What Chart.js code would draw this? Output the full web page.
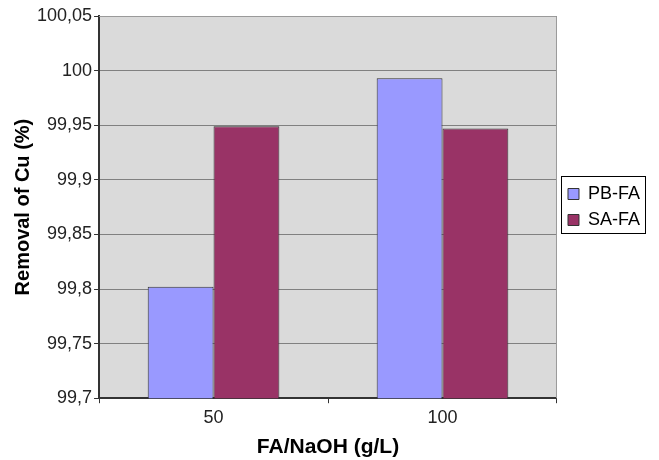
<!DOCTYPE html>
<html>
<head>
<meta charset="utf-8">
<script src="https://cdn.jsdelivr.net/npm/chart.js@4/dist/chart.umd.min.js"></script>
<style>
  html, body { margin: 0; padding: 0; background: #fff; }
  #wrap { width: 659px; height: 460px; }
</style>
</head>
<body>
<div id="wrap"><canvas id="removalChart" width="659" height="460"></canvas></div>
<script>
// data
const categories = ['50', '100'];
const pbFa = [99.802, 99.993];
const saFa = [99.949, 99.947];
const seriesNames = ['PB-FA', 'SA-FA'];
const yMin = 99.7;
const yMax = 100.05;
const yStep = 0.05;

// gray plot background, legend nudged up a bit and framed
const plotBg = {
    id: 'plotBg',
    afterLayout(chart) {
        const lg = chart.legend;
        if (!lg) return;
        lg.top -= 31; lg.bottom -= 31;
        lg.left += 3; lg.right += 3;
    },
    beforeDraw(chart) {
        const a = chart.chartArea;
        const ctx = chart.ctx;
        ctx.save();
        ctx.fillStyle = '#dadada';
        ctx.fillRect(a.left, a.top, a.right - a.left, a.bottom - a.top);
        ctx.restore();
    },
    afterDraw(chart) {
        const a = chart.chartArea;
        const ctx = chart.ctx;
        ctx.save();
        ctx.strokeStyle = '#9a9a9a';
        ctx.lineWidth = 1;
        ctx.beginPath();
        ctx.moveTo(a.left, a.top + 0.5);
        ctx.lineTo(a.right - 0.5, a.top + 0.5);
        ctx.lineTo(a.right - 0.5, a.bottom);
        ctx.stroke();
        const lg = chart.legend;
        if (lg) {
            const mid = (lg.top + lg.bottom) / 2;
            ctx.strokeStyle = '#000';
            ctx.strokeRect(Math.round(lg.left + 1) + 0.5, Math.round(mid - 31) + 0.5, 84, 57);
        }
        ctx.restore();
    }
};

const ctx = document.getElementById('removalChart').getContext('2d');
new Chart(ctx, {
    type: 'bar',
    data: {
        labels: categories,
        datasets: [{
            label: seriesNames[0],
            data: pbFa,
            backgroundColor: '#9999ff',
            borderColor: '#333333',
            borderWidth: 1
        }, {
            label: seriesNames[1],
            data: saFa,
            backgroundColor: '#993366',
            borderColor: '#333333',
            borderWidth: 1
        }]
    },
    options: {
        responsive: false,
        animation: false,
        categoryPercentage: 0.575,
        barPercentage: 1,
        layout: { padding: { top: 16, right: 12, left: 0, bottom: 0 } },
        plugins: {
            legend: {
                position: 'right',
                labels: {
                    boxWidth: 11,
                    boxHeight: 11,
                    padding: 8,
                    color: '#000',
                    font: { family: 'Liberation Sans, Arial', size: 18 }
                }
            },
            tooltip: { enabled: false }
        },
        scales: {
            x: {
                offset: true,
                grid: {
                    offset: true,
                    drawOnChartArea: false,
                    drawTicks: true,
                    tickLength: 5,
                    color: '#333'
                },
                border: { color: '#333', width: 2 },
                ticks: {
                    color: '#222',
                    padding: 4,
                    font: { family: 'Liberation Sans, Arial', size: 18 }
                },
                title: {
                    display: true,
                    text: 'FA/NaOH (g/L)',
                    color: '#000',
                    padding: { top: 2, bottom: 0 },
                    font: { family: 'Liberation Sans, Arial', size: 21, weight: 'bold' }
                }
            },
            y: {
                min: yMin,
                max: yMax,
                grid: {
                    color: '#808080',
                    tickLength: 5,
                    tickColor: '#333'
                },
                border: { color: '#333', width: 2 },
                ticks: {
                    stepSize: yStep,
                    color: '#222',
                    padding: 2,
                    font: { family: 'Liberation Sans, Arial', size: 18 },
                    callback: v => parseFloat(v.toFixed(2)).toString().replace('.', ',')
                },
                title: {
                    display: true,
                    text: 'Removal of Cu (%)',
                    color: '#000',
                    padding: { top: 11, bottom: 0 },
                    font: { family: 'Liberation Sans, Arial', size: 20, weight: 'bold' }
                }
            }
        }
    },
    plugins: [plotBg]
});
</script>
</body>
</html>
